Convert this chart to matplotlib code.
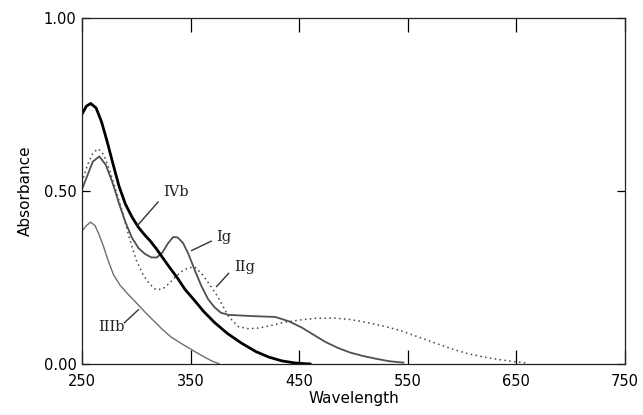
import numpy as np
import matplotlib.pyplot as plt

# spectra (wavelength nm, absorbance)
ivb_x = [250, 254, 258, 263, 268, 273, 278, 284, 290, 296, 302, 308, 313, 318, 323, 330,
         338, 345, 353, 362, 372, 384, 397, 410, 422, 434, 446, 460]
ivb_y = [0.722, 0.745, 0.753, 0.740, 0.700, 0.645, 0.585, 0.515, 0.462, 0.425, 0.395, 0.372,
         0.355, 0.335, 0.313, 0.282, 0.248, 0.215, 0.186, 0.152, 0.120, 0.088, 0.060, 0.036,
         0.020, 0.009, 0.003, 0.0]

ig_x = [250, 255, 260, 266, 272, 278, 284, 290, 296, 302, 308, 314, 319, 324, 329, 334,
        338, 343, 348, 354, 360, 366, 372, 378, 385, 397, 410, 428, 440, 452, 463, 474,
        486, 497, 509, 521, 533, 546]
ig_y = [0.505, 0.545, 0.585, 0.600, 0.575, 0.525, 0.465, 0.410, 0.365, 0.335, 0.318, 0.308,
        0.308, 0.322, 0.348, 0.367, 0.366, 0.350, 0.318, 0.270, 0.225, 0.188, 0.164, 0.148,
        0.142, 0.140, 0.138, 0.136, 0.124, 0.106, 0.085, 0.064, 0.046, 0.033, 0.023, 0.015,
        0.008, 0.004]

iig_x = [250, 255, 260, 265, 270, 276, 282, 288, 294, 300, 306, 312, 318, 324, 330, 336,
         342, 348, 354, 360, 367, 375, 385, 394, 403, 413, 425, 437, 450, 465, 481, 496,
         511, 527, 543, 558, 574, 590, 605, 620, 636, 650, 660]
iig_y = [0.525, 0.575, 0.610, 0.622, 0.605, 0.555, 0.495, 0.430, 0.360, 0.300, 0.260, 0.232,
         0.215, 0.216, 0.232, 0.252, 0.268, 0.278, 0.280, 0.262, 0.232, 0.195, 0.137, 0.108,
         0.102, 0.104, 0.112, 0.121, 0.127, 0.132, 0.133, 0.129, 0.121, 0.110, 0.097, 0.080,
         0.062, 0.044, 0.030, 0.020, 0.012, 0.006, 0.003]

iiib_x = [250, 254, 258, 262, 266, 270, 274, 279, 285, 292, 300, 308, 316, 324, 332, 340,
          348, 356, 364, 370, 376]
iiib_y = [0.384, 0.400, 0.410, 0.400, 0.372, 0.338, 0.300, 0.258, 0.228, 0.203, 0.177, 0.150,
          0.125, 0.100, 0.078, 0.062, 0.047, 0.032, 0.018, 0.008, 0.001]

labels = ['IVb', 'Ig', 'IIg', 'IIIb']
label_pos = [(337, 0.497), (381, 0.366), (400, 0.280), (277, 0.108)]
leader_from = [(320, 0.468), (369, 0.355), (385, 0.262), (289, 0.119)]
leader_to = [(301, 0.400), (351, 0.328), (374, 0.224), (302, 0.157)]

fig = plt.figure(figsize=(6.43, 4.15), dpi=100)
ax = fig.add_axes([0.1275, 0.1229, 0.8445, 0.8337])

ax.plot(iiib_x, iiib_y, color='#6e6e6e', lw=1.0)
ax.plot(iig_x, iig_y, color='#444444', lw=1.1, ls=(0, (1, 2.2)))
ax.plot(ig_x, ig_y, color='#505050', lw=1.3)
ax.plot(ivb_x, ivb_y, color='black', lw=2.0)

for lab, p, a, b in zip(labels, label_pos, leader_from, leader_to):
    ax.text(p[0], p[1], lab, ha='center', va='center', fontsize=10.5,
            family='DejaVu Serif', color='#222222')
    ax.plot([a[0], b[0]], [a[1], b[1]], color='#333333', lw=1.0)

ax.set_xlim(250, 750)
ax.set_ylim(0, 1)
ax.set_xticks([250, 350, 450, 550, 650, 750])
ax.set_yticks([0, 0.5, 1.0])
ax.set_yticklabels(['0.00', '0.50', '1.00'])
ax.tick_params(axis='x', direction='in', length=10, width=0.9, top=True,
               labelsize=10.5, pad=7)
ax.tick_params(axis='y', direction='in', length=6, width=0.9, right=True,
               labelsize=10.5, pad=4)
ax.tick_params(axis='y', which='major', right=True)
for s in ax.spines.values():
    s.set_linewidth(0.9)
    s.set_color('#222222')

ax.set_xlabel('Wavelength', fontsize=11, labelpad=2)
ax.set_ylabel('Absorbance', fontsize=11, labelpad=8)

fig.savefig('out.png', dpi=100)
